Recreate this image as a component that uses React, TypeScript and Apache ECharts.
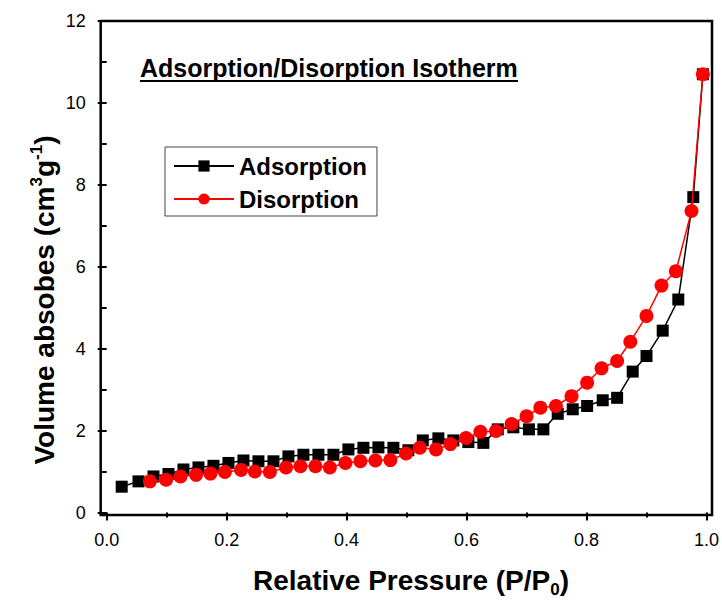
import React, { useEffect, useRef } from "react";
import * as echarts from "echarts";

// Relative pressure (P/P0) and adsorbed volume (cm3 g-1)
const adsorptionP = [0.025, 0.053, 0.078, 0.103, 0.128, 0.153, 0.178, 0.203, 0.228, 0.253, 0.278, 0.303, 0.328, 0.353, 0.378, 0.403, 0.428, 0.453, 0.478, 0.503, 0.527, 0.553, 0.578, 0.603, 0.628, 0.652, 0.678, 0.704, 0.728, 0.752, 0.777, 0.801, 0.827, 0.851, 0.877, 0.9, 0.927, 0.953, 0.978, 0.994];
const adsorptionV = [0.63, 0.76, 0.88, 0.94, 1.05, 1.1, 1.14, 1.21, 1.27, 1.25, 1.25, 1.37, 1.41, 1.41, 1.41, 1.54, 1.58, 1.59, 1.58, 1.52, 1.76, 1.81, 1.76, 1.72, 1.7, 2.03, 2.08, 2.03, 2.03, 2.41, 2.52, 2.6, 2.74, 2.8, 3.44, 3.82, 4.44, 5.2, 7.7, 10.7];

const disorptionP = [0.072, 0.099, 0.123, 0.149, 0.173, 0.197, 0.224, 0.247, 0.272, 0.299, 0.323, 0.348, 0.372, 0.398, 0.423, 0.448, 0.473, 0.499, 0.522, 0.549, 0.573, 0.599, 0.623, 0.649, 0.675, 0.7, 0.723, 0.749, 0.775, 0.801, 0.825, 0.851, 0.873, 0.9, 0.925, 0.949, 0.975, 0.994];
const disorptionV = [0.76, 0.8, 0.88, 0.92, 0.95, 0.99, 1.04, 1.0, 0.99, 1.1, 1.13, 1.13, 1.1, 1.21, 1.25, 1.27, 1.28, 1.44, 1.58, 1.54, 1.67, 1.82, 1.97, 1.99, 2.16, 2.35, 2.56, 2.6, 2.84, 3.17, 3.52, 3.7, 4.17, 4.8, 5.54, 5.89, 7.36, 10.7];

const seriesNames = ["Adsorption", "Disorption"];
const chartTitle = "Adsorption/Disorption Isotherm";
const xTitle = "Relative Pressure (P/P";
const xTitleSub = "0";
const yTitle = "Volume absobes (cm";

const FONT = "'Liberation Sans', Arial, Helvetica, sans-serif";

export default function App() {
  const ref = useRef<HTMLDivElement>(null);

  useEffect(() => {
    if (!ref.current) return;
    const chart = echarts.init(ref.current, undefined, { renderer: "svg" });

    const adsData = adsorptionP.map((p, i) => [p, adsorptionV[i]]);
    const desData = disorptionP.map((p, i) => [p, disorptionV[i]]);

    const option: any = {
      animation: false,
      backgroundColor: "#ffffff",
      textStyle: { fontFamily: FONT },
      grid: {
        left: 106.7,
        top: 21,
        right: 15.3,
        bottom: 88.5,
        containLabel: false,
      },
      legend: {
        show: true,
        orient: "vertical",
        left: 165,
        top: 147,
        padding: [7, 10, 5, 8],
        itemWidth: 60,
        itemHeight: 14,
        itemGap: 9,
        borderColor: "#444",
        borderWidth: 1,
        backgroundColor: "#fff",
        textStyle: {
          fontSize: 24,
          fontWeight: "bold",
          color: "#000",
          fontFamily: FONT,
        },
        data: seriesNames,
      },
      xAxis: {
        type: "value",
        min: 0,
        max: 1,
        interval: 0.2,
        offset: 2.5,
        axisLine: { show: false },
        axisTick: { show: true, length: 8, lineStyle: { color: "#000", width: 2 } },
        minorTick: { show: true, splitNumber: 2, length: 5, lineStyle: { color: "#000", width: 2 } },
        splitLine: { show: false },
        axisLabel: {
          margin: 16,
          fontSize: 18,
          color: "#000",
          fontFamily: FONT,
          formatter: (v: number) => v.toFixed(1),
        },
      },
      yAxis: {
        type: "value",
        min: 0,
        max: 12,
        interval: 2,
        offset: 6,
        axisLine: { show: false },
        axisTick: { show: true, length: 9, lineStyle: { color: "#000", width: 2 } },
        minorTick: { show: true, splitNumber: 2, length: 5, lineStyle: { color: "#000", width: 2 } },
        splitLine: { show: false },
        axisLabel: {
          margin: 15,
          fontSize: 18,
          color: "#000",
          fontFamily: FONT,
        },
      },
      graphic: [
        {
          type: "rect",
          z: 100,
          silent: true,
          shape: { x: 100.7, y: 21, width: 611.3, height: 494 },
          style: { fill: "none", stroke: "#000", lineWidth: 2.5 },
        },
        {
          type: "text",
          x: 140,
          y: 68,
          style: {
            text: chartTitle,
            fill: "#000",
            fontSize: 25,
            fontWeight: "bold",
            fontFamily: FONT,
            align: "left",
            verticalAlign: "middle",
          },
        },
        {
          type: "line",
          shape: { x1: 140, y1: 81, x2: 518, y2: 81 },
          style: { stroke: "#000", lineWidth: 2 },
        },
        {
          type: "text",
          x: 411,
          y: 580,
          style: {
            text: "{m|" + xTitle + "}{sub|" + xTitleSub + "}{m|)}",
            fill: "#000",
            align: "center",
            verticalAlign: "middle",
            rich: {
              m: { fontSize: 28, fontWeight: "bold", fontFamily: FONT, fill: "#000", lineHeight: 32, verticalAlign: "middle" },
              sub: { fontSize: 17, fontWeight: "bold", fontFamily: FONT, fill: "#000", lineHeight: 17, verticalAlign: "bottom", padding: [0, 0, -2, 0] },
            },
          },
        },
        {
          type: "text",
          x: 44,
          y: 300,
          rotation: Math.PI / 2,
          style: {
            text: "{m|" + yTitle + "}{sup|3}{m|g}{sup|-1}{m|)}",
            fill: "#000",
            align: "center",
            verticalAlign: "middle",
            rich: {
              m: { fontSize: 28, fontWeight: "bold", fontFamily: FONT, fill: "#000", lineHeight: 32, verticalAlign: "middle" },
              sup: { fontSize: 17, fontWeight: "bold", fontFamily: FONT, fill: "#000", lineHeight: 17, verticalAlign: "top" },
            },
          },
        },
      ],
      series: [
        {
          name: seriesNames[0],
          type: "line",
          data: adsData,
          symbol: "rect",
          symbolSize: 12,
          itemStyle: { color: "#000" },
          lineStyle: { color: "#000", width: 1.5 },
          z: 2,
        },
        {
          name: seriesNames[1],
          type: "line",
          data: desData,
          symbol: "circle",
          symbolSize: 14,
          itemStyle: { color: "#ff0000" },
          lineStyle: { color: "#ff0000", width: 1.5 },
          z: 3,
        },
      ],
    };

    chart.setOption(option);
    return () => chart.dispose();
  }, []);

  return (
    <div
      ref={ref}
      style={{ position: "fixed", left: 0, top: 0, width: 722, height: 601, background: "#fff" }}
    />
  );
}
